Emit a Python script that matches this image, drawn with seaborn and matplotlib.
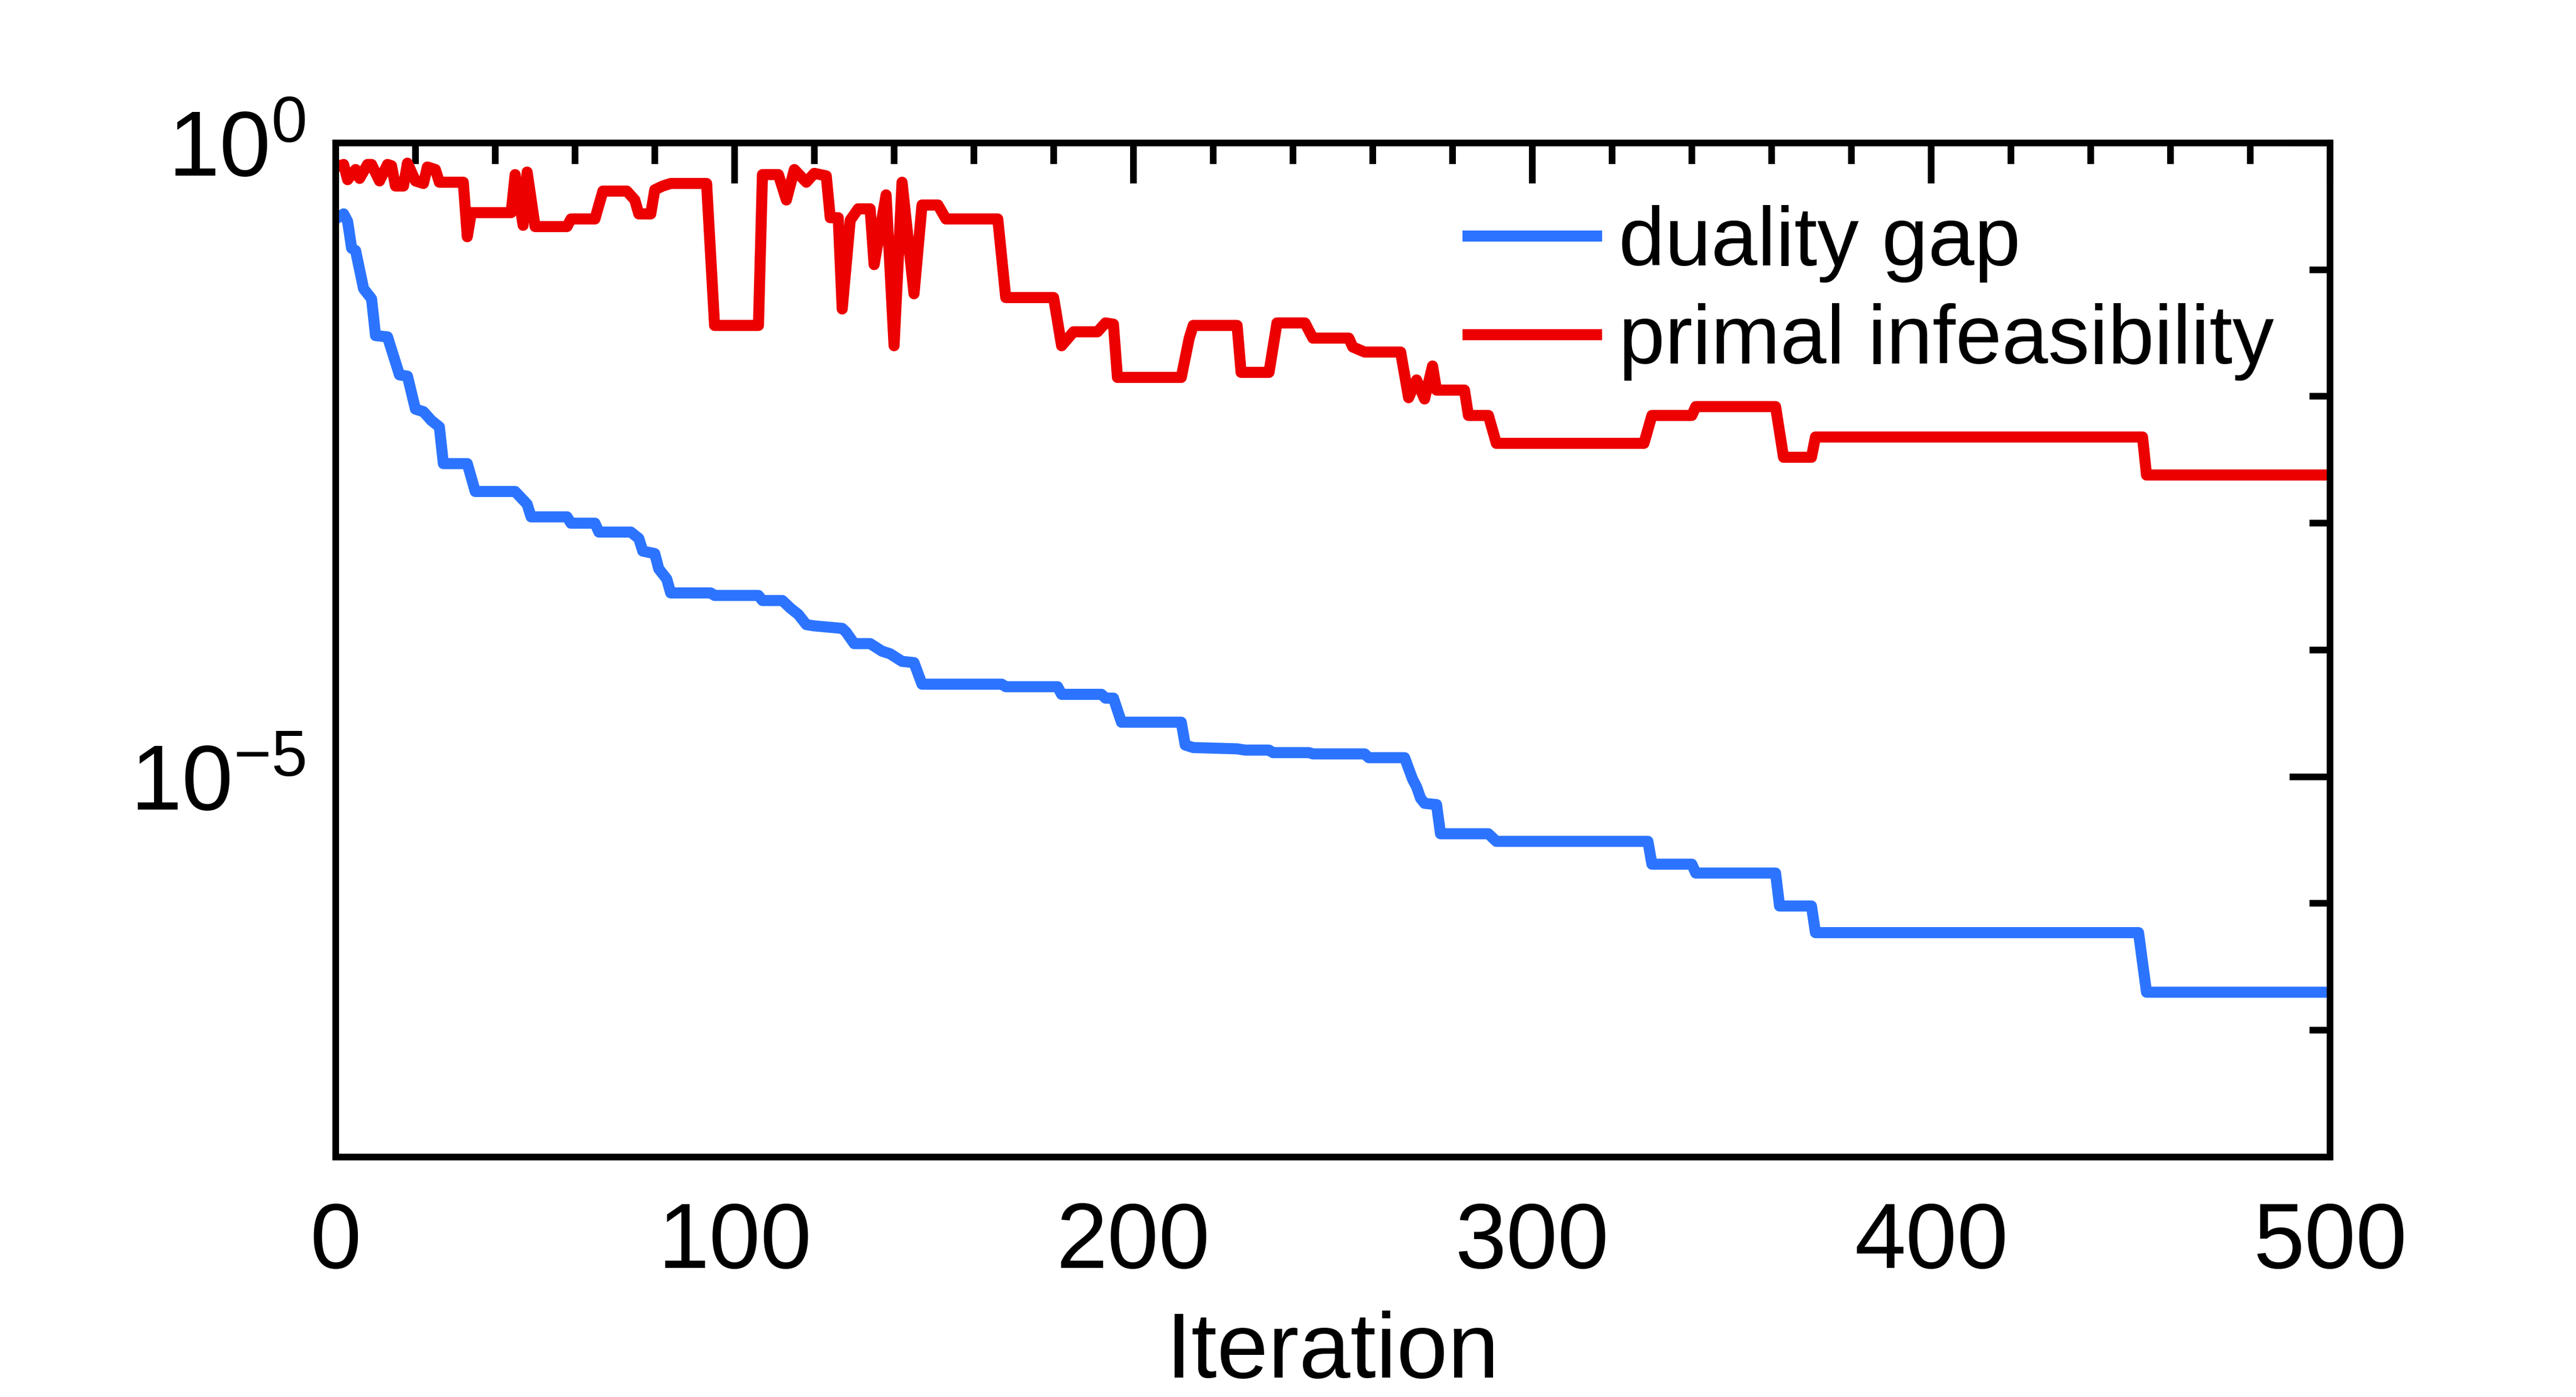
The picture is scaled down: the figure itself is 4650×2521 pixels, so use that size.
import numpy as np
import pandas as pd
import seaborn as sns
import matplotlib
matplotlib.use("Agg")
import matplotlib.pyplot as plt
from matplotlib.ticker import FixedLocator, FuncFormatter, MultipleLocator, NullFormatter

# Values (log10 of the value)
gap_iter = [0, 2, 3, 4, 5, 7, 9, 10, 13, 16, 18, 20, 22, 24, 26, 27, 33, 35, 45, 48,
            49, 58, 59, 65, 66, 74, 76, 77, 80, 81, 83, 84, 94, 95, 106, 107, 112, 114,
            116, 118, 120, 127, 128, 130, 134, 137, 139, 142, 145, 147, 153, 167, 168,
            181, 182, 192, 193, 195, 197, 212, 213, 215, 226, 228, 234, 235, 244, 245,
            258, 259, 268, 270, 271, 272, 273, 276, 277, 289, 291, 329, 330, 340, 341,
            361, 362, 370, 371, 452, 454, 500]
gap_exp = [-0.60, -0.56, -0.62, -0.83, -0.85, -1.15, -1.23, -1.52, -1.53, -1.83, -1.84,
           -2.10, -2.12, -2.19, -2.24, -2.53, -2.53, -2.75, -2.75, -2.85, -2.95, -2.95,
           -3.00, -3.00, -3.07, -3.07, -3.12, -3.22, -3.24, -3.36, -3.44, -3.55, -3.55,
           -3.57, -3.57, -3.61, -3.61, -3.67, -3.72, -3.80, -3.81, -3.83, -3.86, -3.95,
           -3.95, -4.01, -4.03, -4.09, -4.10, -4.27, -4.27, -4.27, -4.29, -4.29, -4.35,
           -4.35, -4.38, -4.38, -4.57, -4.57, -4.75, -4.77, -4.78, -4.79, -4.79, -4.81,
           -4.81, -4.82, -4.82, -4.85, -4.85, -5.02, -5.08, -5.17, -5.21, -5.22, -5.45,
           -5.45, -5.51, -5.51, -5.69, -5.69, -5.76, -5.76, -6.02, -6.02, -6.23, -6.23,
           -6.70, -6.70]

infeas_iter = [0, 2, 3, 5, 6, 8, 9, 11, 13, 14, 15, 17, 18, 20, 22, 23, 25, 26, 32, 33,
               34, 44, 45, 47, 48, 50, 58, 59, 65, 67, 73, 75, 76, 79, 80, 82, 84, 93, 95,
               106, 107, 111, 113, 115, 118, 120, 123, 124, 126, 127, 129, 131, 134, 135,
               138, 140, 142, 145, 147, 151, 153, 166, 168, 180, 182, 185, 191, 193, 195,
               196, 212, 214, 215, 226, 227, 234, 236, 243, 245, 254, 255, 258, 267, 269,
               271, 273, 275, 276, 283, 284, 289, 291, 328, 330, 340, 341, 361, 363, 370,
               371, 453, 454, 500]
infeas_exp = [-0.19, -0.17, -0.29, -0.21, -0.28, -0.17, -0.17, -0.30, -0.17, -0.18, -0.34,
              -0.34, -0.16, -0.30, -0.32, -0.19, -0.21, -0.31, -0.31, -0.74, -0.55, -0.55,
              -0.25, -0.65, -0.23, -0.66, -0.66, -0.60, -0.60, -0.38, -0.38, -0.45, -0.56,
              -0.56, -0.37, -0.34, -0.32, -0.32, -1.44, -1.44, -0.25, -0.25, -0.45, -0.21,
              -0.31, -0.24, -0.26, -0.59, -0.59, -1.31, -0.61, -0.52, -0.52, -0.96, -0.41,
              -1.60, -0.31, -1.19, -0.49, -0.49, -0.60, -0.60, -1.22, -1.22, -1.60, -1.49,
              -1.49, -1.42, -1.43, -1.85, -1.85, -1.54, -1.44, -1.44, -1.81, -1.81, -1.42,
              -1.42, -1.54, -1.54, -1.61, -1.65, -1.65, -2.01, -1.87, -2.02, -1.76, -1.95,
              -1.95, -2.15, -2.15, -2.37, -2.37, -2.15, -2.15, -2.08, -2.08, -2.48, -2.48,
              -2.32, -2.32, -2.62, -2.62]

series_names = ["duality gap", "primal infeasibility"]
series_colors = ["#2C74FF", "#EC0000"]

gap_df = pd.DataFrame({"iteration": gap_iter, "value": 10.0 ** np.array(gap_exp)})
infeas_df = pd.DataFrame({"iteration": infeas_iter, "value": 10.0 ** np.array(infeas_exp)})

sns.set_theme(style="white")
plt.rcParams["font.family"] = ["Liberation Sans", "DejaVu Sans"]
plt.rcParams["mathtext.fontset"] = "custom"
plt.rcParams["mathtext.rm"] = "Liberation Sans"
plt.rcParams["mathtext.it"] = "Liberation Sans"
plt.rcParams["text.color"] = "black"
plt.rcParams["axes.labelcolor"] = "black"
plt.rcParams["xtick.color"] = "black"
plt.rcParams["ytick.color"] = "black"

fig = plt.figure(figsize=(15.5, 2521 / 300), dpi=300)
ax = fig.add_axes([0.1303, 0.1718, 0.7742, 0.7259])

for df, name, col in zip([gap_df, infeas_df], series_names, series_colors):
    sns.lineplot(data=df, x="iteration", y="value", color=col,
                 estimator=None, sort=False, label=name, ax=ax)

# thick curves, flat ends
for ln in ax.lines:
    ln.set_linewidth(4.8)
    ln.set_solid_capstyle("butt")
    ln.set_solid_joinstyle("round")

ax.set_yscale("log")
ax.set_xlim(0, 500)
ax.set_ylim(1e-8, 1)

ax.xaxis.set_major_locator(MultipleLocator(100))
ax.xaxis.set_minor_locator(MultipleLocator(20))
ax.yaxis.set_major_locator(FixedLocator([1e-5, 1e0]))
ax.yaxis.set_minor_locator(FixedLocator([1e-1, 1e-2, 1e-3, 1e-4, 1e-6, 1e-7]))
ax.yaxis.set_major_formatter(FuncFormatter(
    lambda v, p: r"$\mathregular{10^{%d}}$" % round(np.log10(v))))
ax.yaxis.set_minor_formatter(NullFormatter())

ax.tick_params(which="both", direction="in", top=True, right=True, width=2.9, color="black")
ax.tick_params(which="major", length=17.5, labelsize=40, labelcolor="black")
ax.tick_params(which="minor", length=9)
ax.tick_params(axis="x", which="major", pad=19)
ax.tick_params(axis="y", which="major", pad=13)

for sp in ax.spines.values():
    sp.set_visible(True)
    sp.set_linewidth(2.9)
    sp.set_color("black")

ax.grid(False)
ax.set_xlabel("Iteration", fontsize=40, labelpad=10, color="black")
ax.set_ylabel("")

leg = ax.legend(loc="upper left", bbox_to_anchor=(0.565, 0.939), frameon=False, fontsize=36,
                handlelength=1.68, handletextpad=0.2, labelspacing=0.25, borderpad=0,
                borderaxespad=0)
for h in leg.get_lines():
    h.set_linewidth(4.8)
    h.set_solid_capstyle("butt")
for t in leg.get_texts():
    t.set_color("black")

fig.savefig("out.png", dpi=300)
